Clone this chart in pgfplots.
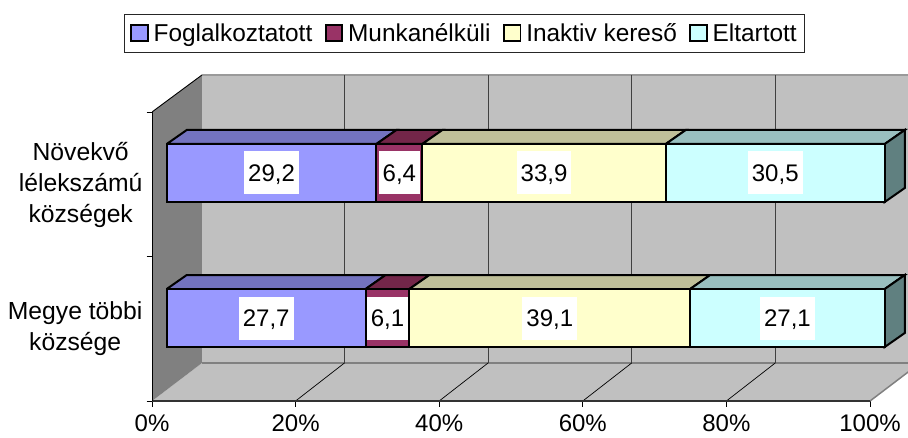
\documentclass[border=0pt]{standalone}
\usepackage{fontspec}
\setmainfont{Liberation Sans}
\usepackage{pgfplots}
\pgfplotsset{compat=1.18}
\definecolor{cA}{HTML}{9999FF}\definecolor{cB}{HTML}{993366}\definecolor{cC}{HTML}{FFFFCC}\definecolor{cD}{HTML}{CCFFFF}
\definecolor{tA}{HTML}{7373BF}\definecolor{tB}{HTML}{732649}\definecolor{tC}{HTML}{BFBF99}\definecolor{tD}{HTML}{99BFBF}
\definecolor{wall}{HTML}{C0C0C0}\definecolor{sidew}{HTML}{808080}\definecolor{sideD}{HTML}{608080}
\newcommand{\fs}{\fontsize{24}{31}\selectfont}
\pgfplotsset{base/.style={scale only axis,width=756pt,height=326pt,at={(152pt,36pt)},anchor=south west,
  xmin=0,xmax=105.29,ymin=0,ymax=326}}
\tikzset{face/.style={draw=black,line width=2pt,line join=miter}}
\begin{document}
\begin{tikzpicture}[x=1pt,y=1pt]
\path[use as bounding box] (0,0) rectangle (908,437);
% walls, grid, top and side faces
\begin{axis}[base,axis line style={draw=none},
  tick align=outside,tick pos=left,major tick length=5.5pt,
  tick style={black,line width=0.8pt},
  xtick={0,20,40,60,80,100},xticklabels={0\%,20\%,40\%,60\%,80\%,100\%},
  ytick={0,145,289},yticklabels={,,},
  extra y ticks={72,216},
  extra y tick labels={{Megye többi\\községe},{Növekvő\\lélekszámú\\községek}},
  extra y tick style={major tick length=0pt,tick style={draw=none}},
  yticklabel style={align=center,font=\fontsize{24.7}{31}\selectfont,xshift=-6pt},
  xticklabel style={font=\fs,yshift=-5pt},clip=true]
\addplot[fill=wall,draw=none] coordinates {(6.96,38)(105.29,38)(105.29,326)(6.96,326)(6.96,38)};
\addplot[fill=wall,draw=none] coordinates {(0,0)(100,0)(105.29,29)(105.29,38)(6.96,38)(0,0)};
\addplot[fill=sidew,draw=none] coordinates {(0,0)(6.96,38)(6.96,326)(0,289)(0,0)};
\addplot[color=sidew,line width=2.2pt] coordinates {(6.96,38)(105.29,38)};
\addplot[color=sidew,line width=1.5pt] coordinates {(100,0)(106.96,38)};
\addplot[color=wall!80!black,line width=1.5pt] coordinates {(6.96,326)(105.29,326)};
\addplot[black!75,line width=0.9pt] coordinates {(26.8,38)(26.8,326)};
\addplot[black!75,line width=0.9pt] coordinates {(46.8,38)(46.8,326)};
\addplot[black!75,line width=0.9pt] coordinates {(66.8,38)(66.8,326)};
\addplot[black!75,line width=0.9pt] coordinates {(86.8,38)(86.8,326)};
\addplot[black,line width=0.7pt] coordinates {(20,0)(26.8,38)};
\addplot[black,line width=0.7pt] coordinates {(40,0)(46.8,38)};
\addplot[black,line width=0.7pt] coordinates {(60,0)(66.8,38)};
\addplot[black,line width=0.7pt] coordinates {(80,0)(86.8,38)};
\addplot[black!80,line width=1.2pt] coordinates {(0,0)(100,0)};
\addplot[black,line width=0.9pt] coordinates {(0,289)(0,0)};
\addplot[black,line width=0.9pt] coordinates {(0,289)(6.96,326)};
% upper bar
\addplot[face,fill=tA] coordinates {(2.05,257)(31.25,257)(34.04,271)(4.84,271)(2.05,257)};
\addplot[face,fill=tB] coordinates {(31.25,257)(37.65,257)(40.44,271)(34.04,271)(31.25,257)};
\addplot[face,fill=tC] coordinates {(37.65,257)(71.55,257)(74.34,271)(40.44,271)(37.65,257)};
\addplot[face,fill=tD] coordinates {(71.55,257)(102.05,257)(104.84,271)(74.34,271)(71.55,257)};
\addplot[face,fill=sideD] coordinates {(102.05,257)(104.84,271)(104.84,213)(102.05,199)(102.05,257)};
% lower bar
\addplot[face,fill=tA] coordinates {(2.05,112)(29.75,112)(32.54,126)(4.84,126)(2.05,112)};
\addplot[face,fill=tB] coordinates {(29.75,112)(35.85,112)(38.64,126)(32.54,126)(29.75,112)};
\addplot[face,fill=tC] coordinates {(35.85,112)(74.95,112)(77.74,126)(38.64,126)(35.85,112)};
\addplot[face,fill=tD] coordinates {(74.95,112)(102.05,112)(104.84,126)(77.74,126)(74.95,112)};
\addplot[face,fill=sideD] coordinates {(102.05,112)(104.84,126)(104.84,68)(102.05,54)(102.05,112)};
\end{axis}
% stacked front faces
\begin{axis}[base,hide axis,xbar stacked,bar width=58,
  legend image code/.code={\draw[#1,line width=1.8pt] (0pt,-8pt) rectangle (16.5pt,8pt);},
  legend style={at={(0.4134,1.128)},anchor=center,legend columns=4,draw=black!85,line width=0.8pt,
    font=\fontsize{24.4}{28}\selectfont,inner xsep=5.5pt,inner ysep=7pt,
    /tikz/every even column/.style={column sep=10.5pt},
    /tikz/every odd column/.style={column sep=3pt}},
  legend cell align=left]
\addplot[draw=none,fill=none,forget plot] coordinates {(2.05,83)(2.05,228)};
\addplot[fill=cA,draw=black,line width=2pt] coordinates {(27.7,83)(29.2,228)};
\addplot[fill=cB,draw=black,line width=2pt] coordinates {(6.1,83)(6.4,228)};
\addplot[fill=cC,draw=black,line width=2pt] coordinates {(39.1,83)(33.9,228)};
\addplot[fill=cD,draw=black,line width=2pt] coordinates {(27.1,83)(30.5,228)};
\legend{Foglalkoztatott,Munkanélküli,Inaktiv kereső,Eltartott}
\end{axis}
% value labels
\begin{axis}[base,hide axis]
\addplot[only marks,mark=none,point meta=explicit symbolic,
  nodes near coords,
  every node near coord/.style={anchor=center,fill=white,font=\fs,inner xsep=4pt,inner ysep=0pt,minimum height=43pt,text height=17pt,text depth=0pt}]
  table[meta=lab] {
x y lab
15.90 83 27,7
32.80 83 6,1
55.40 83 39,1
88.50 83 27,1
16.65 228 29,2
34.45 228 6,4
54.60 228 33,9
86.80 228 30,5
};
\end{axis}
\end{tikzpicture}
\end{document}
